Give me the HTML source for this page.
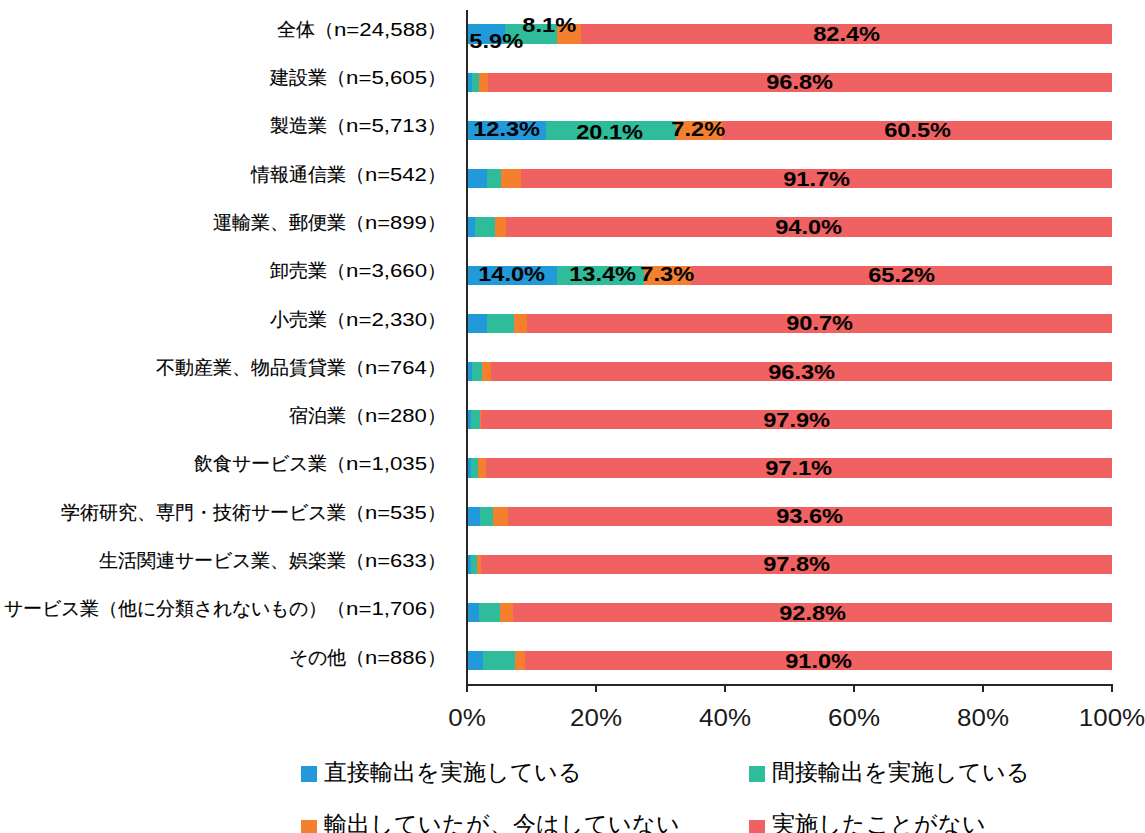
<!DOCTYPE html>
<html><head><meta charset="utf-8"><style>
html,body{margin:0;padding:0;background:#fff;}
body{width:1145px;height:833px;position:relative;overflow:hidden;font-family:"Liberation Sans",sans-serif;color:#000;}
.lab{position:absolute;right:699px;white-space:nowrap;font-size:19px;line-height:30px;color:#1a1a1a;}
.lab{color:#000;-webkit-text-stroke:0.15px #000;} .ln{display:inline-block;} .ln i{font-style:normal;-webkit-text-stroke:0;display:inline-block;transform-origin:0 50%;}
.dl{position:absolute;width:120px;margin-left:-60px;text-align:center;font-weight:bold;font-size:19.5px;line-height:24px;margin-top:-12px;white-space:nowrap;}
.dl b{display:inline-block;transform:scaleX(1.21);}
.tk{position:absolute;width:100px;margin-left:-50px;text-align:center;font-size:24px;line-height:30px;top:702.5px;color:#1a1a1a;transform:scaleX(1.08);}
.lg{position:absolute;font-size:23px;line-height:30px;white-space:nowrap;color:#000;-webkit-text-stroke:0.05px #000;}
.sq{position:absolute;width:16px;height:16px;}
svg{position:absolute;left:0;top:0;}
</style></head><body>
<svg width="1145" height="833" viewBox="0 0 1145 833" shape-rendering="crispEdges">

<rect x="467.00" y="24.46" width="38.06" height="19.29" fill="#2299d8"/>
<rect x="505.06" y="24.46" width="52.24" height="19.29" fill="#2ebc9b"/>
<rect x="557.30" y="24.46" width="23.22" height="19.29" fill="#f4802f"/>
<rect x="580.52" y="24.46" width="531.48" height="19.29" fill="#f06262"/>
<rect x="467.00" y="72.67" width="4.51" height="19.29" fill="#2299d8"/>
<rect x="471.51" y="72.67" width="7.42" height="19.29" fill="#2ebc9b"/>
<rect x="478.93" y="72.67" width="8.71" height="19.29" fill="#f4802f"/>
<rect x="487.64" y="72.67" width="624.36" height="19.29" fill="#f06262"/>
<rect x="467.00" y="120.88" width="79.34" height="19.29" fill="#2299d8"/>
<rect x="546.34" y="120.88" width="129.65" height="19.29" fill="#2ebc9b"/>
<rect x="675.98" y="120.88" width="46.44" height="19.29" fill="#f4802f"/>
<rect x="722.42" y="120.88" width="389.58" height="19.29" fill="#f06262"/>
<rect x="467.00" y="169.09" width="19.67" height="19.29" fill="#2299d8"/>
<rect x="486.67" y="169.09" width="14.19" height="19.29" fill="#2ebc9b"/>
<rect x="500.86" y="169.09" width="19.67" height="19.29" fill="#f4802f"/>
<rect x="520.53" y="169.09" width="591.47" height="19.29" fill="#f06262"/>
<rect x="467.00" y="217.30" width="7.74" height="19.29" fill="#2299d8"/>
<rect x="474.74" y="217.30" width="20.00" height="19.29" fill="#2ebc9b"/>
<rect x="494.74" y="217.30" width="10.96" height="19.29" fill="#f4802f"/>
<rect x="505.70" y="217.30" width="606.30" height="19.29" fill="#f06262"/>
<rect x="467.00" y="265.51" width="90.30" height="19.29" fill="#2299d8"/>
<rect x="557.30" y="265.51" width="86.43" height="19.29" fill="#2ebc9b"/>
<rect x="643.73" y="265.51" width="47.09" height="19.29" fill="#f4802f"/>
<rect x="690.82" y="265.51" width="421.18" height="19.29" fill="#f06262"/>
<rect x="467.00" y="313.72" width="19.67" height="19.29" fill="#2299d8"/>
<rect x="486.67" y="313.72" width="27.41" height="19.29" fill="#2ebc9b"/>
<rect x="514.09" y="313.72" width="12.90" height="19.29" fill="#f4802f"/>
<rect x="526.99" y="313.72" width="585.01" height="19.29" fill="#f06262"/>
<rect x="467.00" y="361.93" width="4.51" height="19.29" fill="#2299d8"/>
<rect x="471.51" y="361.93" width="10.32" height="19.29" fill="#2ebc9b"/>
<rect x="481.83" y="361.93" width="9.03" height="19.29" fill="#f4802f"/>
<rect x="490.86" y="361.93" width="621.13" height="19.29" fill="#f06262"/>
<rect x="467.00" y="410.14" width="3.87" height="19.29" fill="#2299d8"/>
<rect x="470.87" y="410.14" width="9.35" height="19.29" fill="#2ebc9b"/>
<rect x="480.22" y="410.14" width="0.32" height="19.29" fill="#f4802f"/>
<rect x="480.55" y="410.14" width="631.45" height="19.29" fill="#f06262"/>
<rect x="467.00" y="458.35" width="3.55" height="19.29" fill="#2299d8"/>
<rect x="470.55" y="458.35" width="7.10" height="19.29" fill="#2ebc9b"/>
<rect x="477.64" y="458.35" width="8.06" height="19.29" fill="#f4802f"/>
<rect x="485.71" y="458.35" width="626.29" height="19.29" fill="#f06262"/>
<rect x="467.00" y="506.56" width="12.58" height="19.29" fill="#2299d8"/>
<rect x="479.58" y="506.56" width="13.87" height="19.29" fill="#2ebc9b"/>
<rect x="493.44" y="506.56" width="14.83" height="19.29" fill="#f4802f"/>
<rect x="508.28" y="506.56" width="603.72" height="19.29" fill="#f06262"/>
<rect x="467.00" y="554.77" width="4.19" height="19.29" fill="#2299d8"/>
<rect x="471.19" y="554.77" width="5.48" height="19.29" fill="#2ebc9b"/>
<rect x="476.68" y="554.77" width="4.51" height="19.29" fill="#f4802f"/>
<rect x="481.19" y="554.77" width="630.81" height="19.29" fill="#f06262"/>
<rect x="467.00" y="602.98" width="11.61" height="19.29" fill="#2299d8"/>
<rect x="478.61" y="602.98" width="21.29" height="19.29" fill="#2ebc9b"/>
<rect x="499.90" y="602.98" width="13.55" height="19.29" fill="#f4802f"/>
<rect x="513.44" y="602.98" width="598.56" height="19.29" fill="#f06262"/>
<rect x="467.00" y="651.19" width="16.45" height="19.29" fill="#2299d8"/>
<rect x="483.45" y="651.19" width="31.93" height="19.29" fill="#2ebc9b"/>
<rect x="515.38" y="651.19" width="9.68" height="19.29" fill="#f4802f"/>
<rect x="525.05" y="651.19" width="586.95" height="19.29" fill="#f06262"/>
<rect x="466" y="10" width="2" height="676" fill="#262626"/>
<rect x="466" y="684" width="647" height="2" fill="#262626"/>
<rect x="466" y="684" width="2" height="8" fill="#262626"/>
<rect x="595" y="684" width="2" height="8" fill="#262626"/>
<rect x="724" y="684" width="2" height="8" fill="#262626"/>
<rect x="853" y="684" width="2" height="8" fill="#262626"/>
<rect x="982" y="684" width="2" height="8" fill="#262626"/>
<rect x="1111" y="684" width="2" height="8" fill="#262626"/>
</svg>
<div class="lab" style="top:14.7px">全体（<span class="ln" style="width:93.38px"><i style="transform:scaleX(1.1705)">n=24,588</i></span>）</div>
<div class="lab" style="top:63.0px">建設業（<span class="ln" style="width:81.12px"><i style="transform:scaleX(1.1719)">n=5,605</i></span>）</div>
<div class="lab" style="top:111.3px">製造業（<span class="ln" style="width:81.12px"><i style="transform:scaleX(1.1719)">n=5,713</i></span>）</div>
<div class="lab" style="top:159.6px">情報通信業（<span class="ln" style="width:61.88px"><i style="transform:scaleX(1.1593)">n=542</i></span>）</div>
<div class="lab" style="top:207.9px">運輸業、郵便業（<span class="ln" style="width:61.88px"><i style="transform:scaleX(1.1593)">n=899</i></span>）</div>
<div class="lab" style="top:256.2px">卸売業（<span class="ln" style="width:81.12px"><i style="transform:scaleX(1.1719)">n=3,660</i></span>）</div>
<div class="lab" style="top:304.5px">小売業（<span class="ln" style="width:81.12px"><i style="transform:scaleX(1.1719)">n=2,330</i></span>）</div>
<div class="lab" style="top:352.8px">不動産業、物品賃貸業（<span class="ln" style="width:61.88px"><i style="transform:scaleX(1.1593)">n=764</i></span>）</div>
<div class="lab" style="top:401.1px">宿泊業（<span class="ln" style="width:61.88px"><i style="transform:scaleX(1.1593)">n=280</i></span>）</div>
<div class="lab" style="top:449.4px">飲食サービス業（<span class="ln" style="width:81.12px"><i style="transform:scaleX(1.1719)">n=1,035</i></span>）</div>
<div class="lab" style="top:497.7px">学術研究、専門・技術サービス業（<span class="ln" style="width:61.88px"><i style="transform:scaleX(1.1593)">n=535</i></span>）</div>
<div class="lab" style="top:546.0px">生活関連サービス業、娯楽業（<span class="ln" style="width:61.88px"><i style="transform:scaleX(1.1593)">n=633</i></span>）</div>
<div class="lab" style="top:594.3px">サービス業（他に分類されないもの）（<span class="ln" style="width:81.12px"><i style="transform:scaleX(1.1719)">n=1,706</i></span>）</div>
<div class="lab" style="top:642.6px">その他（<span class="ln" style="width:61.88px"><i style="transform:scaleX(1.1593)">n=886</i></span>）</div>
<div class="dl" style="left:846.3px;top:34.1px"><b>82.4%</b></div>
<div class="dl" style="left:799.8px;top:82.3px"><b>96.8%</b></div>
<div class="dl" style="left:917.2px;top:129.5px"><b>60.5%</b></div>
<div class="dl" style="left:816.3px;top:178.7px"><b>91.7%</b></div>
<div class="dl" style="left:808.9px;top:226.9px"><b>94.0%</b></div>
<div class="dl" style="left:901.4px;top:275.2px"><b>65.2%</b></div>
<div class="dl" style="left:819.5px;top:323.4px"><b>90.7%</b></div>
<div class="dl" style="left:801.4px;top:371.6px"><b>96.3%</b></div>
<div class="dl" style="left:796.3px;top:419.8px"><b>97.9%</b></div>
<div class="dl" style="left:798.9px;top:468.0px"><b>97.1%</b></div>
<div class="dl" style="left:810.1px;top:516.2px"><b>93.6%</b></div>
<div class="dl" style="left:796.6px;top:564.4px"><b>97.8%</b></div>
<div class="dl" style="left:812.7px;top:612.6px"><b>92.8%</b></div>
<div class="dl" style="left:818.5px;top:660.8px"><b>91.0%</b></div>
<div class="dl" style="left:496.2px;top:41.2px"><b>5.9%</b></div>
<div class="dl" style="left:549.2px;top:25.0px"><b>8.1%</b></div>
<div class="dl" style="left:506.4px;top:129.0px"><b>12.3%</b></div>
<div class="dl" style="left:610.1px;top:132.0px"><b>20.1%</b></div>
<div class="dl" style="left:698.4px;top:129.0px"><b>7.2%</b></div>
<div class="dl" style="left:512.0px;top:274.3px"><b>14.0%</b></div>
<div class="dl" style="left:602.8px;top:274.3px"><b>13.4%</b></div>
<div class="dl" style="left:667.6px;top:274.3px"><b>7.3%</b></div>
<div class="tk" style="left:467px">0%</div>
<div class="tk" style="left:596px">20%</div>
<div class="tk" style="left:725px">40%</div>
<div class="tk" style="left:854px">60%</div>
<div class="tk" style="left:983px">80%</div>
<div class="tk" style="left:1112px">100%</div>
<div class="sq" style="left:300.8px;top:766px;background:#2299d8"></div>
<div class="lg" style="left:323.8px;top:757px">直接輸出を実施している</div>
<div class="sq" style="left:748.9px;top:766px;background:#2ebc9b"></div>
<div class="lg" style="left:771.9px;top:757px">間接輸出を実施している</div>
<div class="sq" style="left:300.8px;top:820px;background:#f4802f"></div>
<div class="lg" style="left:323.8px;top:808.5px">輸出していたが、今はしていない</div>
<div class="sq" style="left:748.9px;top:820px;background:#f06262"></div>
<div class="lg" style="left:771.9px;top:808.5px">実施したことがない</div>
</body></html>
